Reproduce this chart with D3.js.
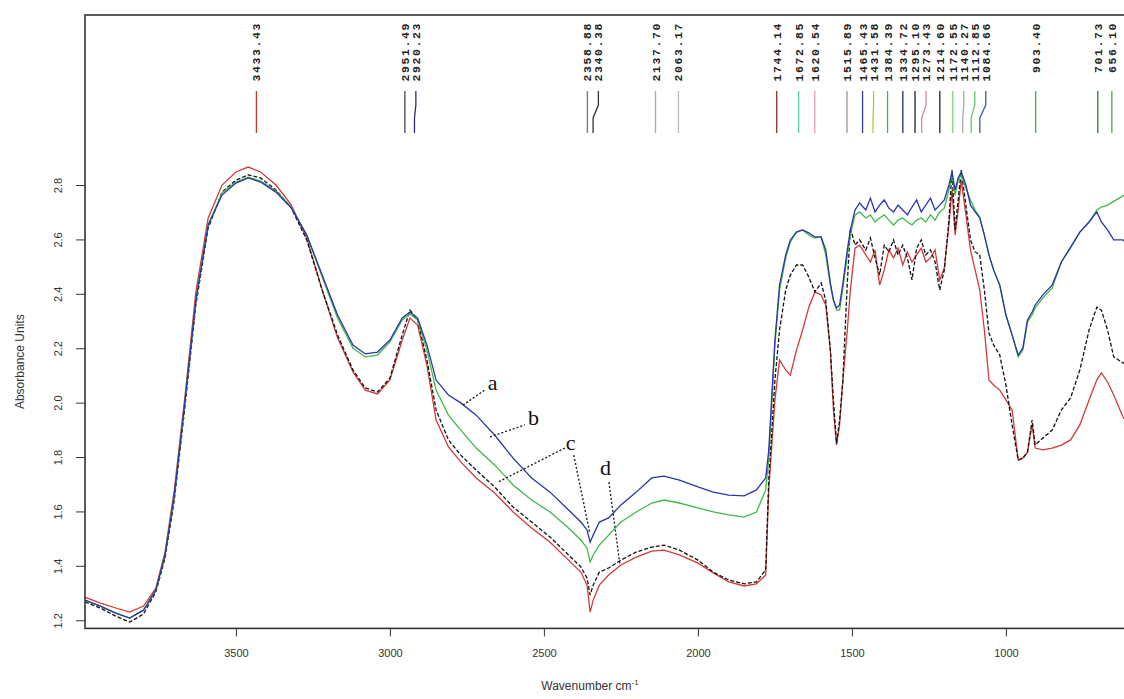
<!DOCTYPE html>
<html>
<head>
<meta charset="utf-8">
<script src="https://cdn.jsdelivr.net/npm/d3@7"></script>
<style>
  body { margin: 0; background: #fff; }
  svg { display: block; }
</style>
</head>
<body>
<div id="chart"></div>
<script>
// wavenumbers (cm-1) shared by the four spectra
var wavenumbers = [
  3990,3940,3890,3845,3800,3760,3730,3700,3665,3630,
  3590,3545,3500,3460,3420,3370,3320,3270,3220,3170,
  3120,3080,3040,3000,2960,2935,2910,2880,2850,2810,
  2770,2720,2660,2600,2540,2480,2420,2380,2360,2350,
  2340,2320,2290,2250,2200,2150,2110,2060,2000,1950,
  1900,1850,1810,1780,1770,1750,1735,1715,1700,1680,
  1660,1640,1620,1600,1585,1570,1560,1550,1540,1530,
  1515,1505,1490,1475,1455,1440,1425,1410,1395,1380,
  1365,1350,1335,1320,1305,1290,1275,1260,1245,1230,
  1215,1200,1185,1175,1165,1155,1145,1130,1115,1100,
  1085,1070,1055,1040,1020,1000,980,960,945,930,
  915,905,880,850,820,790,760,730,705,690,
  670,650,620,600
];

// absorbance, curve a (blue)
var seriesA = [
  1.274,1.252,1.226,1.208,1.237,1.311,1.440,1.660,2.010,2.377,
  2.653,2.763,2.807,2.826,2.811,2.774,2.715,2.616,2.469,2.322,
  2.212,2.179,2.186,2.230,2.311,2.333,2.311,2.212,2.083,2.028,
  1.999,1.954,1.881,1.796,1.723,1.671,1.605,1.561,1.532,1.487,
  1.513,1.561,1.576,1.624,1.671,1.723,1.730,1.715,1.690,1.671,
  1.660,1.657,1.679,1.723,1.826,2.230,2.432,2.543,2.598,2.627,
  2.635,2.624,2.609,2.609,2.561,2.440,2.377,2.348,2.359,2.432,
  2.561,2.635,2.708,2.734,2.708,2.752,2.701,2.726,2.745,2.715,
  2.701,2.726,2.708,2.690,2.719,2.745,2.701,2.726,2.752,2.708,
  2.726,2.745,2.800,2.848,2.782,2.826,2.848,2.800,2.726,2.701,
  2.679,2.616,2.543,2.488,2.432,2.322,2.249,2.175,2.201,2.304,
  2.333,2.359,2.396,2.432,2.517,2.572,2.627,2.664,2.701,2.664,
  2.635,2.598,2.598,2.579
];

// curve b (green)
var seriesB = [
  1.274,1.252,1.226,1.208,1.237,1.311,1.440,1.660,2.010,2.377,
  2.653,2.771,2.811,2.829,2.815,2.778,2.719,2.616,2.462,2.311,
  2.201,2.168,2.175,2.223,2.304,2.326,2.304,2.193,2.046,1.954,
  1.899,1.833,1.771,1.697,1.642,1.598,1.539,1.495,1.465,1.414,
  1.440,1.476,1.513,1.561,1.598,1.631,1.642,1.631,1.613,1.598,
  1.587,1.579,1.598,1.679,1.789,2.212,2.414,2.532,2.590,2.627,
  2.635,2.616,2.605,2.609,2.543,2.432,2.377,2.340,2.340,2.414,
  2.543,2.616,2.690,2.701,2.679,2.690,2.664,2.679,2.690,2.671,
  2.653,2.671,2.679,2.664,2.653,2.671,2.679,2.664,2.690,2.671,
  2.701,2.715,2.782,2.837,2.763,2.818,2.837,2.789,2.745,2.708,
  2.682,2.616,2.543,2.488,2.432,2.322,2.249,2.168,2.193,2.296,
  2.322,2.348,2.385,2.421,2.517,2.568,2.627,2.664,2.708,2.719,
  2.726,2.740,2.760,2.765
];

// curve c (black dashed)
var seriesC = [
  1.267,1.245,1.215,1.193,1.223,1.304,1.429,1.642,1.991,2.359,
  2.642,2.774,2.818,2.837,2.826,2.782,2.715,2.598,2.414,2.249,
  2.120,2.054,2.039,2.090,2.249,2.340,2.304,2.157,1.973,1.863,
  1.807,1.752,1.690,1.616,1.561,1.506,1.440,1.396,1.355,1.293,
  1.329,1.377,1.392,1.421,1.451,1.469,1.476,1.458,1.421,1.377,
  1.348,1.334,1.341,1.385,1.715,2.083,2.267,2.414,2.469,2.506,
  2.506,2.462,2.407,2.440,2.377,2.193,2.010,1.851,1.936,2.072,
  2.440,2.642,2.579,2.598,2.561,2.605,2.532,2.469,2.579,2.554,
  2.598,2.543,2.579,2.532,2.451,2.568,2.598,2.543,2.561,2.517,
  2.414,2.488,2.671,2.855,2.635,2.745,2.855,2.726,2.598,2.554,
  2.543,2.414,2.256,2.212,2.175,2.065,1.918,1.789,1.796,1.818,
  1.936,1.844,1.870,1.899,1.973,2.017,2.120,2.267,2.351,2.340,
  2.267,2.168,2.146,2.138
];

// curve d (red)
var seriesD = [
  1.285,1.263,1.245,1.230,1.252,1.318,1.451,1.679,2.028,2.407,
  2.679,2.800,2.848,2.866,2.848,2.800,2.726,2.605,2.414,2.238,
  2.113,2.046,2.032,2.083,2.230,2.311,2.285,2.138,1.936,1.837,
  1.782,1.723,1.668,1.598,1.539,1.487,1.421,1.377,1.329,1.230,
  1.274,1.329,1.366,1.403,1.432,1.454,1.458,1.440,1.410,1.374,
  1.341,1.326,1.334,1.366,1.679,2.010,2.157,2.120,2.101,2.193,
  2.267,2.351,2.407,2.396,2.359,2.193,1.973,1.844,1.918,2.072,
  2.267,2.414,2.568,2.579,2.543,2.517,2.561,2.432,2.488,2.561,
  2.532,2.568,2.506,2.554,2.517,2.543,2.568,2.517,2.532,2.561,
  2.451,2.495,2.653,2.782,2.616,2.708,2.818,2.690,2.561,2.488,
  2.414,2.267,2.083,2.065,2.046,2.010,1.973,1.789,1.796,1.818,
  1.918,1.833,1.826,1.833,1.844,1.863,1.918,2.010,2.083,2.109,
  2.076,2.028,1.947,1.918
];

var xTicks = [3500, 3000, 2500, 2000, 1500, 1000];
var yTicks = [1.2, 1.4, 1.6, 1.8, 2.0, 2.2, 2.4, 2.6, 2.8];

// peak picks written along the top
var peakLabels = ["3433.43","2951.49","2920.23","2358.88","2340.38","2137.70","2063.17",
  "1744.14","1672.85","1620.54","1515.89","1465.43","1431.58","1384.39","1334.72",
  "1295.10","1273.43","1214.60","1172.55","1140.27","1112.85","1084.66",
  "903.40","701.73","656.10"];
var peakColors = ["#c0392b","#444","#2c2c6e","#777","#333","#aaa","#bbb",
  "#8b2d2d","#5fd0b0","#e8a0b0","#999","#3a3a9a","#b5c93a","#4caf50","#1f2a6b",
  "#222","#d08aa0","#222","#7bd67b","#aaa","#6cc46c","#3d5a9e",
  "#3bb54a","#2e7d32","#3bb54a"];

// curve letters and their dotted leaders (wavenumber, absorbance)
var letterNames = ["a", "b", "c", "d"];
var letterWn = [2682, 2552, 2429, 2318];
var letterAbs = [2.046, 1.918, 1.826, 1.734];
var leaders = [
  [2763, 1.991, 2692, 2.046],
  [2675, 1.874, 2562, 1.918],
  [2432, 1.833, 2649, 1.708],
  [2403, 1.807, 2351, 1.521],
  [2289, 1.708, 2253, 1.403]
];

var width = 1124, height = 699;

var svg = d3.select("#chart").append("svg")
  .attr("width", width)
  .attr("height", height);

// right part of the axis runs off the picture, like the original
var x = d3.scaleLinear().domain([3990, 400]).range([85, 85 + 3590 * 0.308]);
var y = d3.scaleLinear().domain([1.17, 3.425]).range([628.4, 15]);

var font = "'Liberation Sans', Arial, sans-serif";

// spectra
var curves = [
  {name: "d", values: seriesD, color: "#d23a3a", dash: null},
  {name: "c", values: seriesC, color: "#111", dash: "4,2"},
  {name: "b", values: seriesB, color: "#3dbb45", dash: null},
  {name: "a", values: seriesA, color: "#2a36a8", dash: null}
];

var line = d3.line()
  .x(function(d) { return x(d[0]); })
  .y(function(d) { return y(d[1]); });

svg.selectAll("path.curve")
  .data(curves)
  .enter()
  .append("path")
    .attr("class", "curve")
    .attr("d", function(c) { return line(wavenumbers.map(function(w, i) { return [w, c.values[i]]; })); })
    .attr("fill", "none")
    .attr("stroke", function(c) { return c.color; })
    .attr("stroke-width", 1.3)
    .attr("stroke-dasharray", function(c) { return c.dash; });

// frame
svg.append("rect")
  .attr("x", x(3990)).attr("y", y(3.425))
  .attr("width", x(400) - x(3990)).attr("height", y(1.17) - y(3.425))
  .attr("fill", "none").attr("stroke", "#333").attr("stroke-width", 1.6);

// axes
var xAxis = svg.append("g")
  .attr("transform", "translate(0," + y(1.17) + ")")
  .call(d3.axisBottom(x).tickValues(xTicks).tickSize(8).tickPadding(13).tickFormat(d3.format("d")));
xAxis.select(".domain").remove();
xAxis.selectAll("line").attr("stroke", "#333");
xAxis.selectAll("text").attr("font-family", font).attr("font-size", 11).attr("fill", "#333");

var yAxis = svg.append("g")
  .attr("transform", "translate(" + x(3990) + ",0)")
  .call(d3.axisLeft(y).tickValues(yTicks).tickSize(9).tickFormat(d3.format(".1f")));
yAxis.select(".domain").remove();
yAxis.selectAll("line").attr("stroke", "#333");
yAxis.selectAll("text")
  .attr("x", 0).attr("dy", 0)
  .attr("text-anchor", "middle")
  .attr("transform", "translate(-23,0) rotate(-90)")
  .attr("font-family", font).attr("font-size", 11).attr("fill", "#333");

// axis titles
svg.append("text")
  .attr("transform", "translate(24," + ((y(1.17) + y(3.425)) / 2 + 40) + ") rotate(-90)")
  .attr("text-anchor", "middle")
  .attr("font-family", font).attr("font-size", 12).attr("fill", "#333")
  .text("Absorbance Units");

var xt = svg.append("text")
  .attr("x", 590).attr("y", 690)
  .attr("text-anchor", "middle")
  .attr("font-family", font).attr("font-size", 12).attr("fill", "#333");
xt.append("tspan").text("Wavenumber cm");
xt.append("tspan").attr("dy", -5).attr("font-size", 8).text("-1");

// peak picks: spread labels so they do not overlap, then bend the tick line to the peak
var peaks = peakLabels.map(function(s, i) {
  return {label: s, px: x(+s), color: peakColors[i]};
});
peaks.sort(function(p, q) { return p.px - q.px; });
peaks.forEach(function(p, i) {
  p.lx = p.px;
  if (i > 0 && p.lx < peaks[i - 1].lx + 11) p.lx = peaks[i - 1].lx + 11;
});

var plotTop = y(3.425);
svg.selectAll("path.peak")
  .data(peaks)
  .enter()
  .append("path")
    .attr("class", "peak")
    .attr("d", function(p) {
      return "M" + p.lx + "," + (plotTop + 76) + "L" + p.lx + "," + (plotTop + 90) +
             "L" + p.px + "," + (plotTop + 103) + "L" + p.px + "," + (plotTop + 118);
    })
    .attr("fill", "none")
    .attr("stroke", function(p) { return p.color; })
    .attr("stroke-width", 1.3);

svg.selectAll("text.peak")
  .data(peaks)
  .enter()
  .append("text")
    .attr("class", "peak")
    .attr("transform", function(p) { return "translate(" + (p.lx + 4) + "," + (plotTop + 7) + ") rotate(-90)"; })
    .attr("text-anchor", "end")
    .attr("font-family", "'Liberation Mono', monospace")
    .attr("font-size", 11.5)
    .attr("font-weight", "bold")
    .attr("letter-spacing", 1.6)
    .attr("fill", "#222")
    .text(function(p) { return p.label; });

// curve letters
svg.selectAll("line.leader")
  .data(leaders)
  .enter()
  .append("line")
    .attr("class", "leader")
    .attr("x1", function(d) { return x(d[0]); })
    .attr("y1", function(d) { return y(d[1]); })
    .attr("x2", function(d) { return x(d[2]); })
    .attr("y2", function(d) { return y(d[3]); })
    .attr("stroke", "#222")
    .attr("stroke-width", 1.4)
    .attr("stroke-dasharray", "2,2");

svg.selectAll("text.letter")
  .data(letterNames)
  .enter()
  .append("text")
    .attr("class", "letter")
    .attr("x", function(d, i) { return x(letterWn[i]); })
    .attr("y", function(d, i) { return y(letterAbs[i]); })
    .attr("font-family", "'Liberation Serif', 'Times New Roman', serif")
    .attr("font-size", 22)
    .attr("fill", "#111")
    .text(function(d) { return d; });
</script>
</body>
</html>
